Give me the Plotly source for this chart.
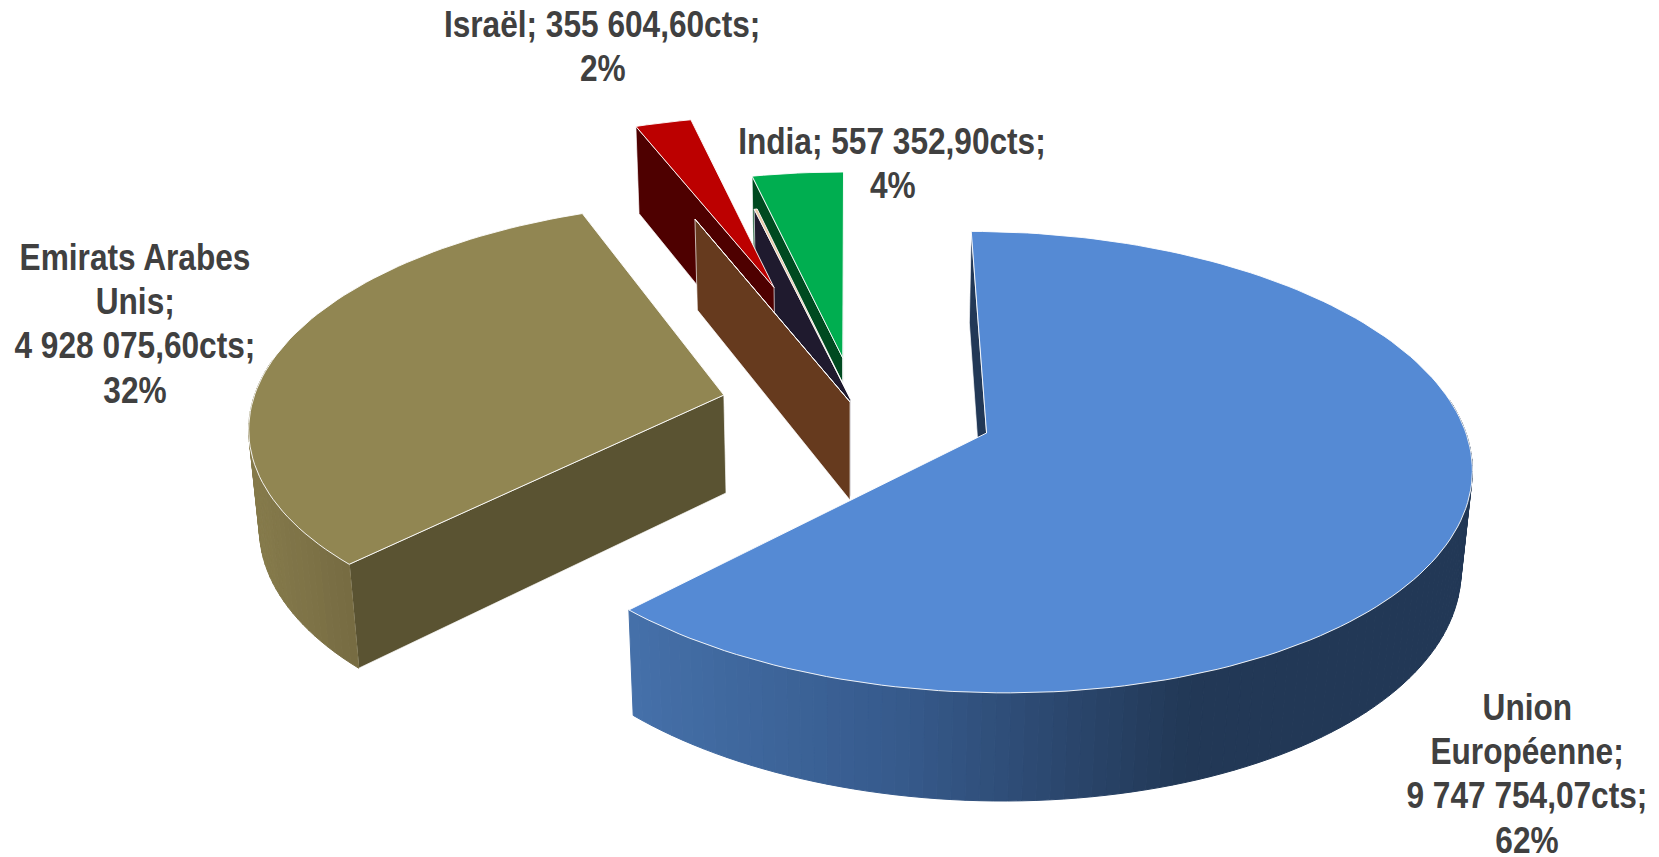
import numpy as np
import plotly.graph_objects as go

# ---- data (in reading order, clockwise from the top of the pie) ----
names = ["Union Européenne", "Emirats Arabes Unis", "Autre A", "Israël", "Autre B", "India"]
carats = [9747754.07, 4928075.60, 3000.0, 355604.60, 18000.0, 557352.90]
shown_percent = ["62%", "32%", None, "2%", None, "4%"]

# ---- styles ----
top_colors = ["#558AD4", "#918652", "#F2E4D8", "#BC0000", "#EBC8A6", "#00AE50"]
wall_colors = ["#223856", "#5A5332", "#663A1E", "#4E0000", "#1F1A2E", "#004A20"]
explode = [0.297, 0.285, 0.028, 0.612, 0.04, 0.233]
paint_order = [5, 4, 3, 2, 1, 0]
arc_ramps = {
    0: ([630, 900, 1190], ["#4570A9", "#365A8C", "#223856"]),
    1: ([255, 350], ["#857A4B", "#766B42"]),
}
label_wraps = {
    0: ["Union", "Européenne;"],
    1: ["Emirats Arabes", "Unis;"],
    3: ["Israël;"],
    5: ["India;"],
}
label_pos = {0: (1527, 707), 1: (135, 257), 3: (602, 24), 5: (892, 141)}
one_line = {3, 5}
LINE_GAP = 44.4

# ---- projection of the tilted pie ----
X0, Y0, A, B, P = 850.0, 430.0, 478.6, 226.3, 0.1261
WALL, SINK = 101.0, 0.018
CENTRE = (0.0103, 0.100)


def project(x, y, below=False):
    x, y = np.asarray(x, float), np.asarray(y, float)
    d = 1 + P * y + (SINK if below else 0.0)
    sx = X0 + A * x / d
    sy = Y0 + ((WALL if below else 0.0) - B * y) / d
    return sx, sy


def hex_mix(c1, c2, t):
    a = [int(c1[i:i + 2], 16) for i in (1, 3, 5)]
    b = [int(c2[i:i + 2], 16) for i in (1, 3, 5)]
    return "#%02X%02X%02X" % tuple(round(p + (q - p) * t) for p, q in zip(a, b))


def ramp(stops, colors, x):
    if x <= stops[0]:
        return colors[0]
    for i in range(len(stops) - 1):
        if x <= stops[i + 1]:
            return hex_mix(colors[i], colors[i + 1], (x - stops[i]) / (stops[i + 1] - stops[i]))
    return colors[-1]


def poly(xs, ys, fill, line=None, width=1.0):
    return go.Scatter(
        x=list(xs) + [xs[0]], y=list(ys) + [ys[0]], mode="lines", fill="toself",
        fillcolor=fill, line=dict(color=line or fill, width=width),
        hoverinfo="skip", showlegend=False,
    )


total = sum(carats)
sweeps = [v / total * 360 for v in carats]
fig = go.Figure()
starts = 90 - np.concatenate([[0], np.cumsum(sweeps)[:-1]])

for k in paint_order:
    a1, a2 = starts[k], starts[k] - sweeps[k]
    mid = np.radians((a1 + a2) / 2)
    ax = CENTRE[0] + explode[k] * np.cos(mid)
    ay = CENTRE[1] + explode[k] * np.sin(mid)
    steps = max(2, int(abs(a1 - a2) / 1.5))
    th = np.radians(np.linspace(a1, a2, steps + 1))
    rx, ry = ax + np.cos(th), ay + np.sin(th)

    # radial walls that face the viewer
    sax, say = project(ax, ay)
    smx, smy = project(ax + np.cos(mid), ay + np.sin(mid))
    for end in (a1, a2):
        e = np.radians(end)
        ex, ey = ax + np.cos(e), ay + np.sin(e)
        sex, sey = project(ex, ey)
        if abs(sex - sax) < 1e-6:
            continue
        line_y = say + (sey - say) * (smx - sax) / (sex - sax)
        if smy < line_y:
            bax, bay = project(ax, ay, True)
            bex, bey = project(ex, ey, True)
            fig.add_trace(poly([sax, sex, bex, bax], [say, sey, bey, bay],
                               wall_colors[k], "rgba(255,255,255,0.85)", 0.8))

    # outer curved wall
    tx, ty = project(rx, ry)
    bx, by = project(rx, ry, True)
    for i in range(steps):
        if np.sin((th[i] + th[i + 1]) / 2) > 0.15:
            continue
        xm = (tx[i] + tx[i + 1]) / 2
        c = ramp(*arc_ramps[k], xm) if k in arc_ramps else wall_colors[k]
        fig.add_trace(poly([tx[i], tx[i + 1], bx[i + 1], bx[i]],
                           [ty[i], ty[i + 1], by[i + 1], by[i]], c))

    # top face
    fig.add_trace(poly([sax] + list(tx), [say] + list(ty), top_colors[k],
                       "rgba(255,255,255,0.9)", 1.0))

# ---- labels ----
FONT = dict(family="Liberation Sans", size=37, color="#404040", weight=700)


def money(v):
    whole, frac = f"{v:.2f}".split(".")
    groups = f"{int(whole):,}".replace(",", " ")
    return f"{groups},{frac}cts;"


for k, wrap in label_wraps.items():
    value = money(carats[k])
    if k in one_line:
        rows = [f"{wrap[0]} {value}", shown_percent[k]]
    else:
        rows = wrap + [value, shown_percent[k]]
    for r, row in enumerate(rows):
        fig.add_annotation(x=label_pos[k][0], y=label_pos[k][1] + r * LINE_GAP, text=row,
                           showarrow=False, font=FONT, align="center",
                           xanchor="center", yanchor="middle")

fig.update_layout(
    width=1659, height=857,
    margin=dict(l=0, r=0, t=0, b=0),
    paper_bgcolor="white", plot_bgcolor="white",
    xaxis=dict(range=[0, 1659], visible=False, fixedrange=True),
    yaxis=dict(range=[857, 0], visible=False, fixedrange=True),
    showlegend=False,
)
page_css = (
    "document.body.style.margin='0';"
    "var s=document.createElement('style');"
    "s.textContent='.annotation-text{transform-box:fill-box;transform-origin:center;"
    "transform:scaleX(0.855);}';"
    "document.head.appendChild(s);"
)
fig.write_html("out.html", post_script=page_css, config={"displayModeBar": False})
